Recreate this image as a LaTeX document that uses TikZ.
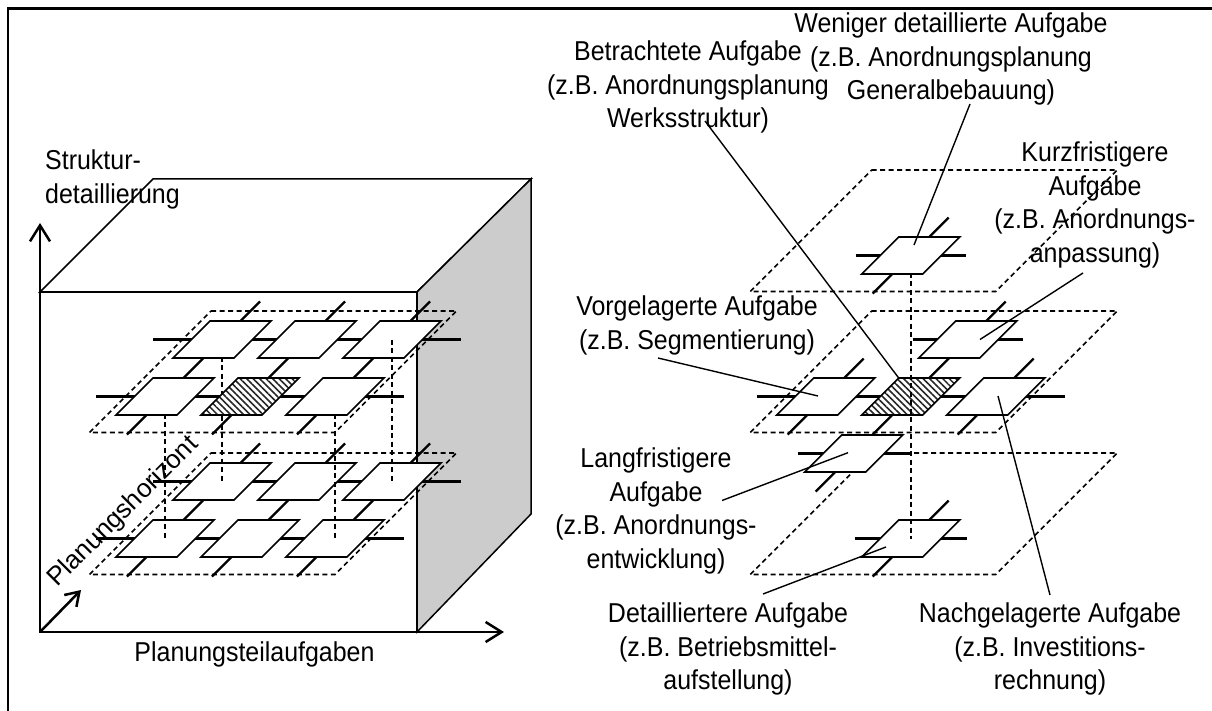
\documentclass[tikz,border=0pt]{standalone}
\usepackage{fontspec}
\setmainfont{Liberation Sans}
\usetikzlibrary{arrows.meta,patterns.meta,calc}
\begin{document}
\begin{tikzpicture}[x=1pt,y=-1pt,
  txt/.style={font=\fontsize{26}{32}\selectfont, inner sep=0pt},
  lbl/.style={txt, align=center, anchor=north, transform shape, xscale=0.96, yscale=1.05},
  cubeline/.style={line width=1.5pt, line join=miter},
  axis/.style={line width=2.5pt, -{Straight Barb[length=16pt,width=20pt]}},
  planeline/.style={line width=1.6pt, dash pattern=on 5pt off 3.5pt},
  link/.style={line width=1.6pt, dash pattern=on 5pt off 3.5pt},
  crossline/.style={line width=2.2pt},
  tileline/.style={line width=1.7pt, line join=miter},
  leader/.style={line width=1.4pt},
  tile/.pic={\draw[tileline,fill=white] (-12,-18.5) -- (49,-18.5) -- (12,18.5) -- (-49,18.5) -- cycle;},
  hatchtile/.pic={\draw[tileline,preaction={fill=white},
      pattern={Lines[angle=-45,distance=4.6pt,line width=1.5pt]},pattern color=black!85]
      (-12,-18.5) -- (49,-18.5) -- (12,18.5) -- (-49,18.5) -- cycle;},
  plane/.pic={\draw[planeline] (0,0) -- (245.5,0) -- (124,121.5) -- (-121.5,121.5) -- cycle;},
]
\useasboundingbox (0,0) rectangle (1212,711);
\fill[white] (0,0) rectangle (1212,711);

% frame (left and top edges)
\draw[line width=2.4pt] (8,711) -- (8,8.7) -- (1212,8.7);

% ---------------- cube ----------------
\draw[cubeline,fill=white] (40,292) -- (153,179) -- (531,179) -- (417,292) -- cycle;
\draw[cubeline,fill=white] (40,292) rectangle (417,632);
\draw[cubeline,fill=gray!40] (417,292) -- (531,179) -- (531,514) -- (417,632) -- cycle;

% lower layer
\begin{scope}[shift={(211,453)}]
  \pic {plane};
  \draw[crossline] (-58,28.5) -- (250,28.5) (-115,85.5) -- (193,85.5);
  \foreach \c in {0,85,170} \draw[crossline] (49+\c,-9.5) -- (-84+\c,123.5);
  \foreach \c in {0,85,170} {\pic at (11+\c,28.5) {tile}; \pic at (-46+\c,85.5) {tile};}
\end{scope}

% links between the layers
\draw[link] (222,339.5) -- (222,481.5);
\draw[link] (165,396.5) -- (165,538.5);
\draw[link] (335,396.5) -- (335,538.5);

% upper layer
\begin{scope}[shift={(211,311)}]
  \pic {plane};
  \draw[crossline] (-58,28.5) -- (250,28.5) (-115,85.5) -- (193,85.5);
  \foreach \c in {0,85,170} \draw[crossline] (49+\c,-9.5) -- (-84+\c,123.5);
  \foreach \c in {0,85,170} \pic at (11+\c,28.5) {tile};
  \pic at (-46,85.5) {tile};
  \pic at (39,85.5) {hatchtile};
  \pic at (124,85.5) {tile};
\end{scope}
\draw[link] (392,339.5) -- (392,481.5);

% axes
\coordinate (O) at (40,632);
\coordinate (Ytip) at (40,223);
\coordinate (Xtip) at (504,632);
\coordinate (Ztip) at (81,590);
\draw[axis] (O) -- (Ytip);
\draw[axis] (O) -- (Xtip);
\draw[line width=2.5pt, -{Straight Barb[length=13pt,width=17pt]}] (O) -- (Ztip);

\node[lbl, anchor=north west, align=left] (struktur) at (45,150) {Struktur-\\detaillierung};
\node[lbl, anchor=base] (teilauf) at (254.5,661) {Planungsteilaufgaben};
\node[txt, anchor=center, rotate=45] (horizont) at (123.5,512) {Planungshorizont};

% ---------------- detail view ----------------
\begin{scope}[shift={(871.7,311)}]
  \pic at (0,-141) {plane};
  \pic at (0,0) {plane};
  \pic at (0,142) {plane};
  \coordinate (V) at (-46,85.5);
  \coordinate (H) at (39,85.5);
  \coordinate (N) at (124,85.5);
  \coordinate (K) at (96,28.5);
  \coordinate (L) at (-18,142.5);
  \coordinate (T) at (39,-55.5);
  \coordinate (D) at (39,227.5);
\end{scope}

% cross lines of the tiles
\draw[crossline] ($(V)+(-69,0)$) -- ($(N)+(69,0)$);
\draw[crossline] ($(V)+(38,-38)$) -- ($(V)+(-38,38)$);
\draw[crossline] ($(N)+(38,-38)$) -- ($(N)+(-38,38)$);
\draw[crossline] ($(K)+(38,-38)$) -- ($(L)+(-38,38)$);
\draw[crossline] ($(K)+(-55,0)$) -- ($(K)+(55,0)$);
\draw[crossline] ($(L)+(-56,0)$) -- ($(L)+(56,0)$);
\draw[crossline] ($(T)+(-55,0)$) -- ($(T)+(55,0)$);
\draw[crossline] ($(T)+(38,-38)$) -- ($(T)+(-38,38)$);
\draw[crossline] ($(D)+(-56,0)$) -- ($(D)+(56,0)$);
\draw[crossline] ($(D)+(38,-38)$) -- ($(D)+(-38,38)$);

\pic at (V) {tile};
\pic at (N) {tile};
\pic at (K) {tile};
\pic at (L) {tile};
\pic at (D) {tile};
\pic at (H) {hatchtile};
\draw[link] (T) -- (D);
\pic at (T) {tile};

% labels
\node[lbl] (wen) at (951,12.5) {Weniger detaillierte Aufgabe\\(z.B. Anordnungsplanung\\Generalbebauung)};
\node[lbl] (betr) at (688,40.5) {Betrachtete Aufgabe\\(z.B. Anordnungsplanung\\Werksstruktur)};
\node[lbl] (kurz) at (1095,141.5) {Kurzfristigere\\Aufgabe\\(z.B. Anordnungs-\\anpassung)};
\node[lbl] (vorg) at (697,295.5) {Vorgelagerte Aufgabe\\(z.B. Segmentierung)};
\node[lbl] (lang) at (656,447.5) {Langfristigere\\Aufgabe\\(z.B. Anordnungs-\\entwicklung)};
\node[lbl] (detl) at (728,602.5) {Detailliertere Aufgabe\\(z.B. Betriebsmittel-\\aufstellung)};
\node[lbl] (nach) at (1050,602.5) {Nachgelagerte Aufgabe\\(z.B. Investitions-\\rechnung)};

% leader lines
\coordinate (wenA) at (970,104);
\coordinate (betrA) at (705,121);
\coordinate (kurzA) at (1083,273);
\coordinate (vorgA) at (658,358);
\coordinate (langA) at (722,500.5);
\coordinate (detlA) at (763,594);
\coordinate (nachA) at (1050,595);
\draw[leader] (wenA) -- ($(T)+(3.3,-10.5)$);
\draw[leader] (betrA) -- ($(H)+(-12,-18.5)$);
\draw[leader] (kurzA) -- ($(K)+(12.3,0)$);
\draw[leader] (vorgA) -- ($(V)+(-7.7,-0.5)$);
\draw[leader] (langA) -- ($(L)+(-5.7,-0.8)$);
\draw[leader] (detlA) -- ($(D)+(-24.7,8.5)$);
\draw[leader] ($(N)+(2.3,-0.5)$) -- (nachA);
\end{tikzpicture}
\end{document}
